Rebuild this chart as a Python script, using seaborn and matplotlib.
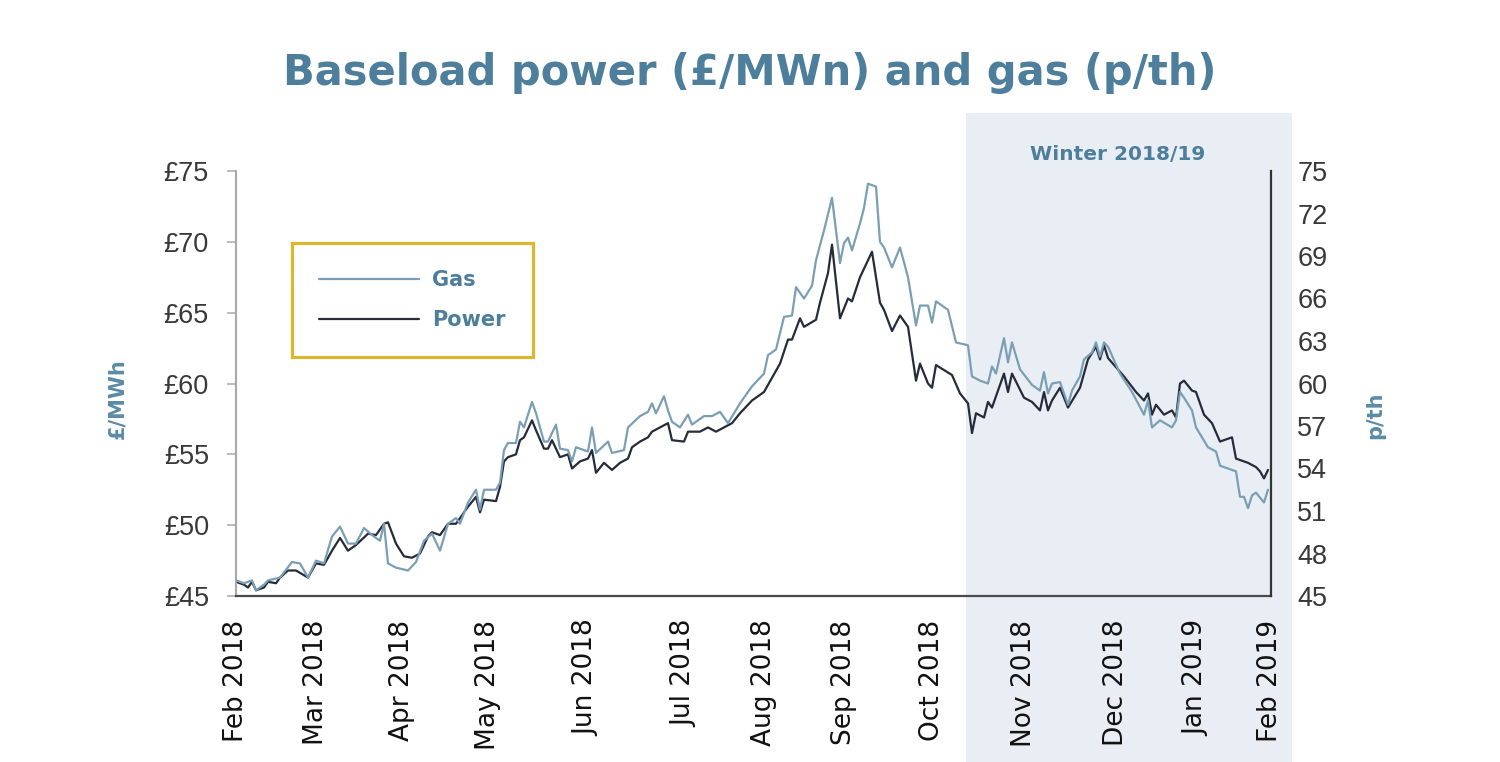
import matplotlib
matplotlib.use("Agg")
import matplotlib.pyplot as plt
from matplotlib.patches import Rectangle
import seaborn as sns

# trading-day index from 1 Feb 2018
power_day = [0, 2, 3, 4, 5, 7, 8, 10, 11, 13,
             15, 18, 20, 22, 24, 26, 28, 30, 33, 35,
             37, 38, 40, 42, 44, 46, 48, 49, 51, 53,
             55, 58, 60, 61, 62, 65, 66, 67, 68, 70,
             71, 72, 74, 75, 77, 78, 79, 81, 83, 84,
             86, 88, 89, 90, 92, 94, 96, 98, 99, 101,
             103, 104, 106, 108, 109, 112, 113, 116, 118, 120,
             122, 124, 126, 129, 132, 134, 136, 138, 139, 141,
             142, 145, 146, 148, 149, 151, 153, 154, 156, 159,
             161, 162, 164, 166, 168, 170, 171, 173, 174, 175,
             179, 181, 183, 184, 185, 187, 188, 189, 192, 193,
             194, 197, 199, 201, 202, 203, 204, 206, 208, 211,
             213, 215, 216, 217, 218, 222, 225, 227, 228, 229,
             230, 232, 234, 235, 236, 237, 239, 240, 242, 244,
             246, 249, 250, 252, 253, 255, 256, 257, 258]
power_val = [46.0, 45.8, 45.6, 46.0, 45.4, 45.6, 46.0, 45.9, 46.3, 46.8,
             46.8, 46.3, 47.3, 47.2, 48.2, 49.1, 48.2, 48.6, 49.4, 49.3,
             50.1, 50.2, 48.7, 47.8, 47.7, 48.0, 49.2, 49.5, 49.3, 50.1,
             50.1, 51.3, 52.0, 50.9, 51.8, 51.7, 52.7, 54.5, 54.8, 55.0,
             56.0, 56.2, 57.4, 56.7, 55.4, 55.4, 56.0, 54.8, 55.0, 54.0,
             54.5, 54.7, 55.3, 53.7, 54.4, 53.9, 54.4, 54.7, 55.5, 55.9,
             56.2, 56.6, 56.9, 57.2, 56.0, 55.9, 56.6, 56.6, 56.9, 56.6,
             56.9, 57.2, 57.9, 58.8, 59.4, 60.4, 61.4, 63.1, 63.1, 64.6,
             64.0, 64.5, 65.7, 67.8, 69.8, 64.6, 66.0, 65.8, 67.5, 69.3,
             65.7, 65.2, 63.7, 64.8, 64.0, 60.2, 61.4, 60.0, 59.7, 61.3,
             60.6, 59.3, 58.6, 56.5, 57.9, 57.6, 58.7, 58.3, 60.7, 59.4,
             60.7, 59.0, 58.7, 58.1, 59.4, 58.1, 58.8, 59.7, 58.3, 59.7,
             61.7, 62.6, 61.7, 62.7, 61.8, 60.5, 59.4, 58.8, 59.3, 57.8,
             58.5, 57.8, 58.1, 57.6, 60.0, 60.2, 59.5, 59.4, 57.8, 57.2,
             55.9, 56.2, 54.7, 54.5, 54.4, 54.1, 53.8, 53.3, 53.9]

gas_day = [0, 2, 4, 5, 7, 8, 11, 14, 16, 18,
           20, 22, 24, 26, 28, 30, 32, 34, 36, 37,
           38, 40, 43, 45, 47, 49, 51, 53, 55, 56,
           58, 60, 61, 62, 65, 66, 67, 68, 70, 71,
           72, 74, 75, 77, 78, 80, 81, 83, 84, 85,
           88, 89, 90, 93, 94, 97, 98, 101, 103, 104,
           105, 107, 108, 109, 111, 113, 114, 117, 119, 121,
           123, 126, 129, 132, 133, 135, 137, 139, 140, 142,
           144, 145, 147, 149, 151, 152, 153, 154, 156, 157,
           158, 160, 161, 162, 164, 166, 168, 170, 171, 173,
           174, 175, 178, 180, 183, 184, 186, 188, 189, 190,
           192, 193, 194, 196, 199, 201, 202, 203, 204, 206,
           208, 209, 211, 212, 214, 215, 216, 217, 218, 221,
           224, 227, 228, 229, 231, 234, 235, 236, 237, 239,
           240, 243, 245, 246, 250, 251, 252, 253, 254, 255,
           257, 258]
gas_val = [46.1, 45.9, 46.1, 45.4, 45.8, 46.1, 46.3, 47.4, 47.3, 46.3,
           47.5, 47.3, 49.2, 49.9, 48.7, 48.7, 49.8, 49.3, 48.9, 50.1,
           47.3, 47.0, 46.8, 47.4, 48.9, 49.4, 48.2, 50.1, 50.5, 50.1,
           51.6, 52.5, 51.1, 52.5, 52.5, 53.0, 55.3, 55.8, 55.8, 57.3,
           56.9, 58.7, 57.9, 55.9, 55.9, 57.1, 55.4, 55.3, 54.5, 55.5,
           55.2, 56.9, 55.1, 55.9, 55.1, 55.3, 56.9, 57.7, 58.0, 58.6,
           57.9, 59.1, 58.1, 57.3, 56.9, 57.8, 57.1, 57.7, 57.7, 58.0,
           57.2, 58.6, 59.8, 60.7, 62.0, 62.4, 64.7, 64.8, 66.8, 66.0,
           66.9, 68.7, 70.8, 73.1, 68.5, 69.9, 70.3, 69.4, 71.3, 72.4,
           74.1, 73.9, 70.0, 69.6, 68.2, 69.6, 67.5, 64.1, 65.5, 65.5,
           64.3, 65.8, 65.2, 62.9, 62.7, 60.5, 60.2, 60.0, 61.2, 60.7,
           63.2, 61.5, 62.9, 61.0, 59.9, 59.5, 60.8, 59.3, 60.0, 60.1,
           58.5, 59.5, 60.5, 61.7, 62.2, 62.9, 61.9, 62.9, 62.6, 60.7,
           59.4, 57.8, 58.8, 56.9, 57.4, 56.9, 57.4, 59.4, 59.0, 58.1,
           56.9, 55.5, 55.2, 54.2, 53.8, 52.0, 52.0, 51.2, 52.1, 52.3,
           51.6, 52.5]

month_labels = ["Feb 2018", "Mar 2018", "Apr 2018", "May 2018", "Jun 2018",
                "Jul 2018", "Aug 2018", "Sep 2018", "Oct 2018", "Nov 2018",
                "Dec 2018", "Jan 2019", "Feb 2019"]
month_pos = [0, 20, 41.5, 63, 87.5, 112, 132, 152, 174, 197, 220, 240, 258.5]

power_ticks = [45, 50, 55, 60, 65, 70, 75]
gas_ticks = [45, 48, 51, 54, 57, 60, 63, 66, 69, 72, 75]

BLUE = "#4d7e9c"
GAS_C = "#7a9fb5"
POWER_C = "#262b3a"

sns.set_style("white")
plt.rcParams["font.family"] = ["DejaVu Sans"]

fig = plt.figure(figsize=(15, 7.62), dpi=100)
ax = fig.add_axes([236 / 1500, 1 - 596 / 762, 1035 / 1500, 425 / 762])
ax.set_facecolor("none")
ax2 = ax.twinx()

# winter band behind everything
fig.patches.append(Rectangle((966 / 1500, 0), 326 / 1500, 1 - 113 / 762,
                             transform=fig.transFigure, facecolor="#e9eef4",
                             edgecolor="none", zorder=-5))

sns.lineplot(x=power_day, y=power_val, ax=ax, color=POWER_C, lw=1.6,
             estimator=None, label="Power", legend=False)
sns.lineplot(x=gas_day, y=gas_val, ax=ax2, color=GAS_C, lw=1.6,
             estimator=None, label="Gas", legend=False)

for a in (ax, ax2):
    a.set_xlim(0, 258.75)
    a.set_ylim(45, 75)
    a.grid(False)

# left axis (power, £/MWh)
ax.set_yticks(power_ticks)
ax.set_yticklabels([f"£{t}" for t in power_ticks])
ax.tick_params(axis="y", direction="out", length=6.5, width=1.1,
               color="#a9a9a9", pad=13, labelsize=19.5, labelcolor="#383838")
for lab in ax.get_yticklabels():
    lab.set_family("Liberation Sans")

ax.set_xticks(month_pos)
ax.set_xticklabels(month_labels, rotation=90)
ax.tick_params(axis="x", length=0, pad=17, labelsize=19, labelcolor="#111111")

ax.spines["left"].set_color("#a9a9a9")
ax.spines["left"].set_linewidth(1.5)
ax.spines["bottom"].set_color("#4a4a4a")
ax.spines["bottom"].set_linewidth(1.6)
ax.spines["top"].set_visible(False)
ax.spines["right"].set_visible(False)

# right axis (gas, p/th)
ax2.set_yticks(gas_ticks)
ax2.tick_params(axis="y", length=0, pad=19, labelsize=19.5, labelcolor="#383838")
for lab in ax2.get_yticklabels():
    lab.set_family("Liberation Sans")
for s in ("left", "top", "bottom"):
    ax2.spines[s].set_visible(False)
ax2.spines["right"].set_color("#333333")
ax2.spines["right"].set_linewidth(1.6)
ax2.set_xlabel("")

ax.set_ylabel("£/MWh", fontsize=15, fontweight="bold", color="#5b8ba6")
ax.yaxis.set_label_coords(-0.1053, 0.4635)
ax2.set_ylabel("p/th", fontsize=15, fontweight="bold", color="#5b8ba6")
ax2.yaxis.set_label_coords(1.0908, 0.426)

# legend
handles = [ax2.lines[0], ax.lines[0]]
leg = ax2.legend(handles, ["Gas", "Power"], loc="upper left",
                 bbox_to_anchor=(0.0541, 0.8306), borderaxespad=0,
                 frameon=True, fancybox=False, framealpha=1,
                 edgecolor="#dcb62c", handlelength=4.8, handletextpad=0.62,
                 labelspacing=0.95, borderpad=1.3,
                 prop={"size": 15, "weight": "bold"})
leg.get_frame().set_linewidth(2.3)
for t in leg.get_texts():
    t.set_color(BLUE)

fig.text(0.5, 1 - 85 / 762, "Baseload power (£/MWn) and gas (p/th)",
         ha="center", va="baseline", fontsize=30, fontweight="bold", color=BLUE)
fig.text(1118 / 1500, 1 - 155 / 762, "Winter 2018/19", ha="center", va="center",
         fontsize=14.5, fontweight="bold", color=BLUE)

fig.savefig("out.png", dpi=100, facecolor="white")
